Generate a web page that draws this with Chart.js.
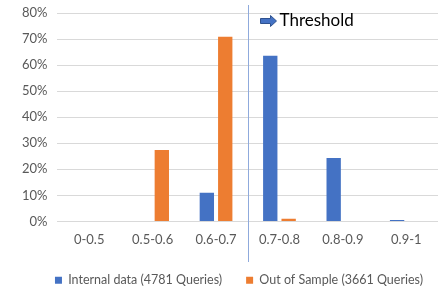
<!DOCTYPE html>
<html>
<head>
<meta charset="utf-8">
<script src="https://cdn.jsdelivr.net/npm/chart.js@4"></script>
<style>
  html, body { margin: 0; padding: 0; background: #fff; }
  #wrap { width: 438px; height: 288px; }
</style>
</head>
<body>
<div id="wrap"><canvas id="bar-chart" width="438" height="288"></canvas></div>
<script>
// categories and series (percent)
const labels = ["0-0.5", "0.5-0.6", "0.6-0.7", "0.7-0.8", "0.8-0.9", "0.9-1"];
const internalData = [0, 0, 11, 63.6, 24.3, 0.5];
const outOfSample = [0, 27.4, 70.9, 1, 0, 0];
const seriesNames = ["Internal data (4781 Queries)", "Out of Sample (3661 Queries)"];
const thresholdText = "Threshold";
const thresholdAt = 2.5; // between 0.6-0.7 and 0.7-0.8

const tickColor = "#595959";
const fontFamily = "Lato, 'Open Sans', sans-serif";

// vertical threshold line + label
const thresholdPlugin = {
  id: "threshold",
  afterLayout(chart) {
    // nudge the legend a bit right, like the original
    chart.legend.left += 14;
    chart.legend.right += 14;
  },
  afterDraw(chart) {
    const c = chart.ctx;
    const x = Math.round(chart.scales.x.getPixelForValue(thresholdAt)) + 0.5;
    c.save();
    c.strokeStyle = "#8faadc";
    c.lineWidth = 1;
    c.beginPath();
    c.moveTo(x, 5);
    c.lineTo(x, 262);
    c.stroke();

    // block arrow
    const ax = x + 12, ay = 21;
    c.fillStyle = "#4472C4";
    c.strokeStyle = "#2f528f";
    c.beginPath();
    c.moveTo(ax, ay - 2.5);
    c.lineTo(ax + 10, ay - 2.5);
    c.lineTo(ax + 10, ay - 5.5);
    c.lineTo(ax + 16, ay);
    c.lineTo(ax + 10, ay + 5.5);
    c.lineTo(ax + 10, ay + 2.5);
    c.lineTo(ax, ay + 2.5);
    c.closePath();
    c.fill();
    c.stroke();

    c.fillStyle = "#000";
    c.font = "17px " + fontFamily;
    c.textBaseline = "middle";
    c.fillText(thresholdText, ax + 19, ay);
    c.restore();
  }
};

const ctx = document.getElementById("bar-chart").getContext("2d");
const barChart = new Chart(ctx, {
  type: "bar",
  data: {
    labels: labels,
    datasets: [
      {
        label: seriesNames[0],
        data: internalData,
        backgroundColor: "#4472C4",
        categoryPercentage: 0.58,
        barPercentage: 0.78,
      },
      {
        label: seriesNames[1],
        data: outOfSample,
        backgroundColor: "#ED7D31",
        categoryPercentage: 0.58,
        barPercentage: 0.78,
      },
    ],
  },
  options: {
    responsive: false,
    animation: false,
    layout: { padding: { left: 12, right: 0, top: 0, bottom: 0 } },
    plugins: {
      tooltip: { enabled: false },
      legend: {
        position: "bottom",
        maxHeight: 38,
        labels: {
          boxWidth: 7,
          boxHeight: 7,
          padding: 24,
          color: tickColor,
          font: { family: fontFamily, size: 12.5 },
        },
      },
    },
    scales: {
      x: {
        grid: { display: false, drawTicks: false },
        border: { display: false },
        ticks: { color: tickColor, font: { family: fontFamily, size: 13 }, padding: 11, maxRotation: 0 },
        afterFit: (scale) => { scale.height -= 9; },
      },
      y: {
        min: 0,
        max: 80,
        border: { display: false },
        grid: { color: "#d9d9d9", drawTicks: false },
        ticks: {
          stepSize: 10,
          padding: 10,
          color: tickColor,
          font: { family: fontFamily, size: 13 },
          callback: (v) => v + "%",
        },
        afterFit: (scale) => { scale.paddingTop = 13; },
      },
    },
  },
  plugins: [thresholdPlugin],
});
</script>
</body>
</html>
